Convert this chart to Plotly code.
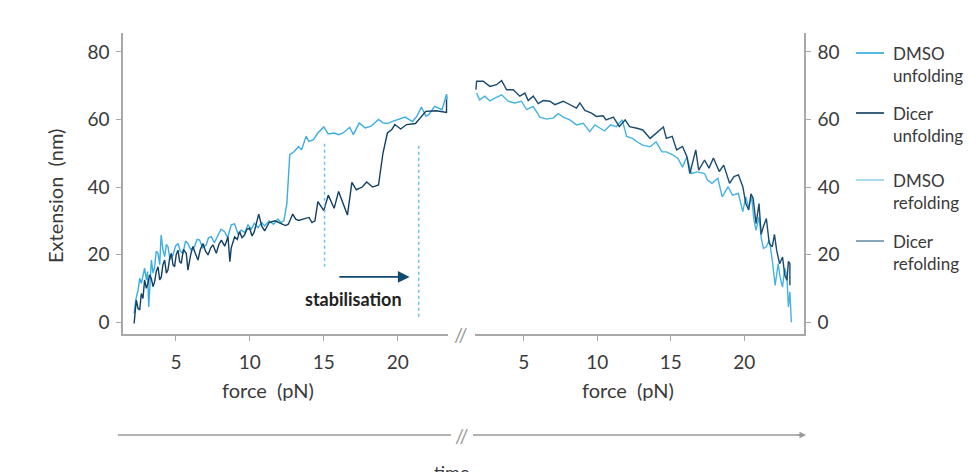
import plotly.graph_objects as go

# ---------------- data ----------------
dmso_unf_force = [2.17, 2.3, 2.44, 2.55, 2.66, 2.77, 2.88, 3.0, 3.08, 3.16, 3.25, 3.34, 3.45, 3.56, 3.67, 3.79, 3.9, 4.0, 4.12, 4.24, 4.35, 4.46, 4.6, 4.8, 4.97, 5.14, 5.3, 5.48, 5.65, 5.81, 6.0, 6.26, 6.43, 6.6, 6.8, 7.05, 7.2, 7.39, 7.6, 7.84, 8.05, 8.29, 8.5, 8.74, 8.97, 9.2, 9.42, 9.65, 9.87, 10.1, 10.3, 10.55, 10.8, 11.0, 11.3, 11.6, 11.9, 12.1, 12.3, 12.5, 12.6, 12.7, 13.0, 13.3, 13.5, 13.8, 14.0, 14.3, 14.6, 15.0, 15.3, 15.7, 16.0, 16.3, 16.75, 17.0, 17.4, 17.8, 18.2, 18.7, 19.0, 19.3, 19.7, 20.1, 20.5, 21.0, 21.3, 21.6, 21.9, 22.1, 22.5, 23.0, 23.3, 23.35]
dmso_unf_ext = [2.6, 7.0, 9.5, 13.0, 11.5, 14.4, 16.0, 12.5, 15.0, 4.5, 14.0, 18.4, 14.5, 16.4, 21.0, 20.4, 17.0, 25.8, 21.5, 19.4, 23.0, 22.4, 18.5, 19.9, 22.5, 23.3, 21.0, 20.4, 24.0, 23.3, 21.5, 22.4, 24.5, 24.3, 22.0, 22.9, 25.0, 25.3, 23.5, 25.8, 27.5, 26.8, 25.0, 28.8, 29.1, 26.0, 27.3, 26.5, 28.8, 27.5, 29.3, 28.0, 29.5, 28.5, 30.0, 29.0, 30.5, 29.5, 30.0, 35.0, 42.0, 49.6, 50.5, 52.0, 51.0, 55.0, 53.5, 54.0, 56.0, 57.8, 55.7, 56.0, 55.5, 56.0, 57.7, 55.5, 59.0, 57.5, 58.0, 60.0, 59.0, 58.8, 59.5, 60.1, 60.7, 59.4, 61.0, 63.7, 61.0, 61.4, 63.9, 62.9, 67.5, 66.0]

dicer_unf_force = [2.17, 2.25, 2.32, 2.44, 2.55, 2.66, 2.77, 2.88, 3.0, 3.11, 3.22, 3.34, 3.45, 3.56, 3.67, 3.79, 3.9, 4.01, 4.12, 4.24, 4.35, 4.46, 4.58, 4.69, 4.8, 4.91, 5.02, 5.14, 5.25, 5.36, 5.5, 5.7, 5.81, 6.0, 6.15, 6.3, 6.49, 6.65, 6.83, 7.0, 7.17, 7.35, 7.5, 7.73, 7.9, 8.07, 8.3, 8.52, 8.65, 8.74, 8.97, 9.15, 9.3, 9.47, 9.64, 9.8, 9.98, 10.15, 10.3, 10.6, 10.8, 11.0, 11.3, 11.7, 12.0, 12.4, 12.6, 12.9, 13.1, 13.3, 13.6, 14.0, 14.2, 14.4, 14.6, 15.0, 15.3, 15.7, 16.0, 16.3, 16.6, 16.9, 17.2, 17.6, 17.9, 18.3, 18.7, 19.0, 19.3, 19.6, 19.8, 20.2, 20.6, 21.2, 21.9, 22.6, 23.3, 23.3]
dicer_unf_ext = [-0.4, 3.0, 6.5, 4.0, 3.6, 8.5, 7.0, 12.5, 10.0, 11.5, 14.0, 12.9, 10.5, 12.0, 15.0, 16.4, 12.5, 13.4, 17.0, 18.4, 14.5, 15.4, 19.0, 20.4, 17.0, 16.4, 20.0, 21.3, 18.0, 17.4, 21.5, 20.4, 15.4, 20.0, 22.4, 20.5, 18.4, 21.5, 23.3, 21.0, 19.9, 22.0, 22.9, 20.4, 23.0, 24.3, 22.5, 25.3, 17.9, 22.0, 25.3, 24.5, 26.8, 25.0, 25.8, 27.5, 27.8, 25.5, 26.8, 32.0, 28.5, 27.0, 29.5, 30.0, 29.5, 28.6, 29.0, 32.0, 30.5, 30.1, 30.5, 31.0, 29.5, 30.0, 35.7, 33.0, 37.6, 33.7, 38.7, 35.0, 31.7, 41.4, 39.2, 40.0, 41.5, 40.0, 40.6, 50.0, 56.0, 57.0, 58.5, 57.2, 58.5, 58.8, 62.4, 62.6, 62.1, 66.0]

dmso_ref_force = [1.8, 2.0, 2.36, 2.7, 3.04, 3.5, 3.95, 4.4, 4.85, 5.2, 5.65, 6.1, 6.56, 7.0, 7.35, 7.69, 8.14, 8.59, 9.05, 9.5, 9.84, 10.2, 10.5, 10.9, 11.3, 11.7, 12.0, 12.4, 12.7, 13.1, 13.6, 14.0, 14.4, 14.7, 15.2, 15.5, 15.8, 16.1, 16.4, 16.8, 17.3, 17.5, 17.8, 18.2, 18.5, 18.9, 19.2, 19.6, 19.9, 20.1, 20.3, 20.5, 20.65, 20.8, 21.0, 21.15, 21.3, 21.5, 21.7, 21.9, 22.1, 22.3, 22.45, 22.6, 22.75, 22.9, 23.0, 23.1, 23.2]
dmso_ref_ext = [67.8, 65.8, 66.9, 65.5, 66.3, 67.3, 65.4, 64.9, 65.4, 62.9, 63.9, 60.7, 60.1, 60.4, 61.7, 60.7, 59.9, 58.4, 58.9, 56.4, 58.4, 57.4, 56.6, 58.4, 57.9, 59.9, 55.0, 54.4, 53.4, 52.4, 51.9, 53.4, 50.4, 50.4, 49.4, 48.4, 45.9, 48.9, 44.0, 44.5, 44.0, 42.1, 41.1, 42.6, 37.1, 40.1, 37.6, 38.1, 32.7, 37.1, 34.0, 37.1, 30.5, 27.2, 31.2, 25.0, 21.8, 22.3, 24.3, 18.5, 10.9, 17.3, 13.0, 10.4, 16.0, 13.4, 4.5, 9.0, 0.0]

dicer_ref_force = [1.75, 1.8, 2.25, 2.7, 3.15, 3.5, 3.84, 4.29, 4.74, 5.08, 5.31, 5.65, 5.99, 6.33, 6.78, 7.12, 7.69, 8.14, 8.59, 8.82, 9.16, 9.61, 9.95, 10.4, 10.6, 11.1, 11.5, 11.9, 12.2, 12.7, 13.1, 13.6, 14.0, 14.5, 14.7, 15.1, 15.4, 15.8, 16.1, 16.3, 16.7, 16.9, 17.3, 17.6, 17.9, 18.3, 18.6, 19.0, 19.3, 19.6, 19.9, 20.1, 20.3, 20.45, 20.6, 20.8, 21.0, 21.15, 21.3, 21.5, 21.7, 21.9, 22.05, 22.2, 22.4, 22.6, 22.75, 22.9, 23.0, 23.1, 23.1]
dicer_ref_ext = [68.8, 71.3, 71.3, 69.8, 70.3, 71.5, 68.8, 68.8, 66.9, 67.8, 65.6, 66.9, 64.7, 65.6, 65.4, 64.4, 65.4, 64.4, 63.4, 64.9, 62.7, 61.9, 60.9, 61.1, 59.9, 60.7, 57.9, 59.9, 57.9, 57.4, 56.9, 54.4, 56.0, 57.8, 54.4, 55.0, 51.0, 52.0, 49.0, 44.0, 51.0, 45.0, 48.0, 45.6, 48.6, 44.6, 46.5, 41.1, 43.1, 43.6, 40.1, 35.1, 33.2, 38.0, 36.7, 29.2, 35.1, 26.0, 28.3, 30.7, 23.3, 22.3, 26.0, 21.3, 17.3, 19.3, 14.0, 12.4, 18.0, 17.3, 10.9]

y_ticks = [0, 20, 40, 60, 80]
x_ticks = [5, 10, 15, 20]
legend_names = [("DMSO", "unfolding"), ("Dicer", "unfolding"), ("DMSO", "refolding"), ("Dicer", "refolding")]

# ---------------- figure ----------------
W, H = 976, 472
OFF = 8  # page body margin offset
FONT = "Lato"
TXT = "#3a3a3a"
AX = "#a8a8a8"
LIGHT = "#3aade2"
DARK = "#123f63"

def px(x):
    return (x - OFF) / W

def py(y):
    return 1 - (y - OFF) / H

fig = go.Figure()
fig.add_trace(go.Scatter(x=dmso_unf_force, y=dmso_unf_ext, mode="lines", line=dict(color=LIGHT, width=1.4), xaxis="x", yaxis="y"))
fig.add_trace(go.Scatter(x=dicer_unf_force, y=dicer_unf_ext, mode="lines", line=dict(color=DARK, width=1.4), xaxis="x", yaxis="y"))
fig.add_trace(go.Scatter(x=dmso_ref_force, y=dmso_ref_ext, mode="lines", line=dict(color="#45b3e4", width=1.4), xaxis="x2", yaxis="y2"))
fig.add_trace(go.Scatter(x=dicer_ref_force, y=dicer_ref_ext, mode="lines", line=dict(color="#1a4b70", width=1.4), xaxis="x2", yaxis="y2"))

ydom = [py(334), py(33)]
yr = [-3.5, 85.6]
tickfont = dict(family=FONT, size=19, color=TXT)

axis_common = dict(showgrid=False, zeroline=False, showline=True, linecolor=AX, linewidth=1.5,
                   ticks="outside", ticklen=5, tickwidth=1.2, tickcolor=AX, tickfont=tickfont)

fig.update_layout(
    width=W, height=H,
    margin=dict(l=0, r=0, t=0, b=0),
    paper_bgcolor="white", plot_bgcolor="white",
    showlegend=False,
    xaxis=dict(domain=[px(123), px(448)], range=[1.42, 23.4], tickvals=x_ticks, anchor="y", **axis_common),
    yaxis=dict(domain=ydom, range=yr, tickvals=y_ticks, anchor="x", side="left", **axis_common),
    xaxis2=dict(domain=[px(475), px(804)], range=[1.69, 24.06], tickvals=x_ticks, anchor="y2", **axis_common),
    yaxis2=dict(domain=ydom, range=yr, tickvals=y_ticks, anchor="x2", side="right", **axis_common),
)
fig.update_xaxes(ticklabelstandoff=5)
fig.update_yaxes(ticklabelstandoff=3)

shapes = []
anns = []

# dotted stabilisation lines
shapes.append(dict(type="line", xref="x", yref="y", x0=15.05, x1=15.05, y0=16.4, y1=53,
                   line=dict(color="#6cc3ea", width=1.5, dash="dot")))
shapes.append(dict(type="line", xref="x", yref="y", x0=21.42, x1=21.42, y0=1.6, y1=53,
                   line=dict(color="#6cc3ea", width=1.5, dash="dot")))
# stabilisation arrow
anns.append(dict(xref="x", yref="y", axref="x", ayref="y", x=20.8, y=13.4, ax=15.95, ay=13.4,
                 showarrow=True, arrowhead=2, arrowsize=1.3, arrowwidth=1.8, arrowcolor="#0f4a72", text=""))
anns.append(dict(xref="paper", yref="paper", x=px(353), y=py(299), text="<b>stabilisation</b>", showarrow=False,
                 font=dict(family=FONT, size=18, color="#222222"), xanchor="center", yanchor="middle"))

# axis titles
anns.append(dict(xref="paper", yref="paper", x=px(55), y=py(196), text="Extension  (nm)", textangle=-90, showarrow=False,
                 font=dict(family=FONT, size=20, color=TXT), xanchor="center", yanchor="middle"))
anns.append(dict(xref="paper", yref="paper", x=px(268), y=py(390), text="force  (pN)", showarrow=False,
                 font=dict(family=FONT, size=20, color=TXT), xanchor="center", yanchor="middle"))
anns.append(dict(xref="paper", yref="paper", x=px(628), y=py(390), text="force  (pN)", showarrow=False,
                 font=dict(family=FONT, size=20, color=TXT), xanchor="center", yanchor="middle"))

# axis break marks
anns.append(dict(xref="paper", yref="paper", x=px(461), y=py(334), text="//", showarrow=False,
                 font=dict(family=FONT, size=20, color="#9a9a9a"), xanchor="center", yanchor="middle"))

# time arrow
shapes.append(dict(type="line", xref="paper", yref="paper", x0=px(118), x1=px(451), y0=py(435), y1=py(435),
                   line=dict(color="#9a9a9a", width=1.3)))
shapes.append(dict(type="line", xref="paper", yref="paper", x0=px(473), x1=px(800), y0=py(435), y1=py(435),
                   line=dict(color="#9a9a9a", width=1.3)))
anns.append(dict(xref="paper", yref="paper", x=px(806), y=py(435), ax=-10, ay=0, axref="pixel", ayref="pixel",
                 showarrow=True, arrowhead=2, arrowsize=1, arrowwidth=1.3, arrowcolor="#9a9a9a", text=""))
anns.append(dict(xref="paper", yref="paper", x=px(462), y=py(435), text="//", showarrow=False,
                 font=dict(family=FONT, size=20, color="#9a9a9a"), xanchor="center", yanchor="middle"))
anns.append(dict(xref="paper", yref="paper", x=px(451), y=py(472), text="time", showarrow=False,
                 font=dict(family=FONT, size=18, color=TXT), xanchor="center", yanchor="middle"))

# manual legend
leg_colors = ["#29a8e0", "#0d3b5e", "#93d2ec", "#6d90ab"]
leg_y = [53, 113, 180, 241]
for (l1, l2), c, yy in zip(legend_names, leg_colors, leg_y):
    shapes.append(dict(type="line", xref="paper", yref="paper", x0=px(856), x1=px(884), y0=py(yy), y1=py(yy),
                       line=dict(color=c, width=1.6)))
    anns.append(dict(xref="paper", yref="paper", x=px(891), y=py(yy - 12), text=l1 + "<br>" + l2, showarrow=False,
                     align="left", xanchor="left", yanchor="top",
                     font=dict(family=FONT, size=17, color=TXT)))

fig.update_layout(shapes=shapes, annotations=anns)
fig.write_html("out.html")
